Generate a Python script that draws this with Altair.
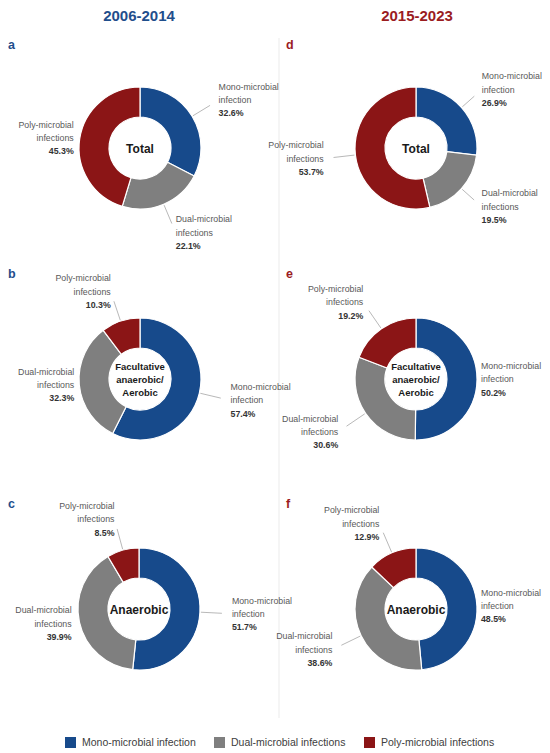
import altair as alt
import pandas as pd

# ---------------- data ----------------
PANEL_LETTERS = ["a", "b", "c", "d", "e", "f"]
PERIODS = ["2006-2014", "2015-2023"]
PANEL_PERIOD = ["2006-2014", "2006-2014", "2006-2014", "2015-2023", "2015-2023", "2015-2023"]
PANEL_GROUP = ["Total", "Facultative\nanaerobic/\nAerobic", "Anaerobic",
               "Total", "Facultative\nanaerobic/\nAerobic", "Anaerobic"]
CATEGORIES = ["Mono-microbial infection", "Dual-microbial infections", "Poly-microbial infections"]
MONO = [32.6, 57.4, 51.7, 26.9, 50.2, 48.5]
DUAL = [22.1, 32.3, 39.9, 19.5, 30.6, 38.6]
POLY = [45.3, 10.3, 8.5, 53.7, 19.2, 12.9]

# ---------------- layout / style ----------------
CENTERS = [(132, 140), (132, 371), (131, 601), (408, 140), (408, 371), (408, 601)]
LABEL_R = [[92, 92, 67], [93, 66, 92], [93, 69, 93],
           [88, 88, 93], [65, 94, 93], [65, 93, 93]]
R_OUT, R_IN = 61, 31
LEADER_START = 62
HEADER_X = [131, 409]
HEADER_Y = 12.5
LETTER_X = [0, 278]
LETTER_Y = [41, 270, 500]
PERIOD_COLORS = ["#1f4e8c", "#9b1c1f"]
SLICE_COLORS = ["#174a8b", "#7f7f7f", "#8b1516"]
FONT = "Liberation Sans"
LH = 13.3

series = [MONO, DUAL, POLY]
rows = []
for p, letter in enumerate(PANEL_LETTERS):
    for k, cat in enumerate(CATEGORIES):
        rows.append(dict(panel=letter, period=PANEL_PERIOD[p], category=cat,
                         idx=k, value=series[k][p], label_r=LABEL_R[p][k]))
df = pd.DataFrame(rows)

theta_scale = alt.Scale(domain=[0, 1])
color_enc = alt.Color("category:N",
                      scale=alt.Scale(domain=CATEGORIES, range=SLICE_COLORS),
                      legend=alt.Legend(title=None))

layers = []

# divider
layers.append(alt.Chart(pd.DataFrame({"d": [0]})).mark_rule(color="#ebebeb", strokeWidth=1).encode(
    x=alt.value(271), y=alt.value(30), y2=alt.value(710)))

for p, letter in enumerate(PANEL_LETTERS):
    cx, cy = CENTERS[p]
    col = 0 if p < 3 else 1
    base = (alt.Chart(df)
            .transform_filter(alt.datum.panel == letter)
            .transform_joinaggregate(total="sum(value)")
            .transform_window(cum="sum(value)", sort=[alt.SortField("idx", order="ascending")],
                              frame=[None, 0])
            .transform_calculate(start="(datum.cum - datum.value) / datum.total",
                                 end="datum.cum / datum.total",
                                 mid="(datum.cum - datum.value / 2) / datum.total",
                                 pct="format(datum.value, '.1f') + '%'"))

    arcs = base.mark_arc(outerRadius=R_OUT, innerRadius=R_IN, stroke="white", strokeWidth=1.2).encode(
        theta=alt.Theta("start:Q", scale=theta_scale),
        theta2="end:Q",
        color=color_enc,
        x=alt.value(cx), y=alt.value(cy))
    layers.append(arcs)

    leaders = (base.transform_filter("datum.label_r > 80")
               .transform_calculate(ang="2 * PI * datum.mid")
               .transform_calculate(lx1=f"{cx} + {LEADER_START} * sin(datum.ang)",
                                    ly1=f"{cy} - {LEADER_START} * cos(datum.ang)",
                                    lx2=f"{cx} + (datum.label_r - 10) * sin(datum.ang)",
                                    ly2=f"{cy} - (datum.label_r - 10) * cos(datum.ang)")
               .mark_rule(color="#a6a6a6", strokeWidth=0.8)
               .encode(x=alt.X("lx1:Q", scale=None, axis=None),
                       y=alt.Y("ly1:Q", scale=None, axis=None),
                       x2="lx2:Q", y2="ly2:Q"))
    layers.append(leaders)

    for align, flt in [("left", "datum.mid < 0.5"), ("right", "datum.mid >= 0.5")]:
        sub = base.transform_filter(flt)
        names = sub.mark_text(align=align, baseline="middle", lineBreak=" ", font=FONT,
                              fontSize=8.8, lineHeight=LH, dy=-LH, color="#595959").encode(
            theta=alt.Theta("mid:Q", scale=theta_scale),
            radius=alt.Radius("label_r:Q", scale=None),
            text="category:N",
            x=alt.value(cx), y=alt.value(cy))
        pcts = sub.mark_text(align=align, baseline="middle", font=FONT, fontSize=8.8,
                             fontWeight="bold", dy=LH, color="#333333").encode(
            theta=alt.Theta("mid:Q", scale=theta_scale),
            radius=alt.Radius("label_r:Q", scale=None),
            text="pct:N",
            x=alt.value(cx), y=alt.value(cy))
        layers += [names, pcts]

    grp = PANEL_GROUP[p]
    multi = "\n" in grp
    center = alt.Chart(pd.DataFrame({"g": [grp]})).mark_text(
        align="center", baseline="middle", lineBreak="\n", font=FONT,
        fontSize=9.5 if multi else 12, lineHeight=13, fontWeight="bold", color="#1a1a1a",
        dy=-13 if multi else 0).encode(
        text="g:N", x=alt.value(cx), y=alt.value(cy + 0.5))
    layers.append(center)

    lt = alt.Chart(pd.DataFrame({"l": [letter]})).mark_text(
        align="left", baseline="alphabetic", font=FONT, fontSize=12.5, fontWeight="bold",
        color=PERIOD_COLORS[col]).encode(
        text="l:N", x=alt.value(LETTER_X[col]), y=alt.value(LETTER_Y[p % 3]))
    layers.append(lt)

for c, per in enumerate(PERIODS):
    layers.append(alt.Chart(pd.DataFrame({"t": [per]})).mark_text(
        align="center", baseline="alphabetic", font=FONT, fontSize=15, fontWeight="bold",
        color=PERIOD_COLORS[c]).encode(text="t:N", x=alt.value(HEADER_X[c]), y=alt.value(HEADER_Y)))

chart = (alt.layer(*layers)
         .properties(width=534, height=745, padding=0, autosize="none")
         .configure_view(stroke=None)
         .configure_legend(orient="none", legendX=57, legendY=729, direction="horizontal",
                           symbolType="square", symbolSize=121, symbolStrokeWidth=0,
                           labelFont=FONT, labelFontSize=10.5, labelColor="#404040",
                           columnPadding=18, labelOffset=6, padding=0))

chart.save("out.html", embed_options={"renderer": "svg", "actions": False})
